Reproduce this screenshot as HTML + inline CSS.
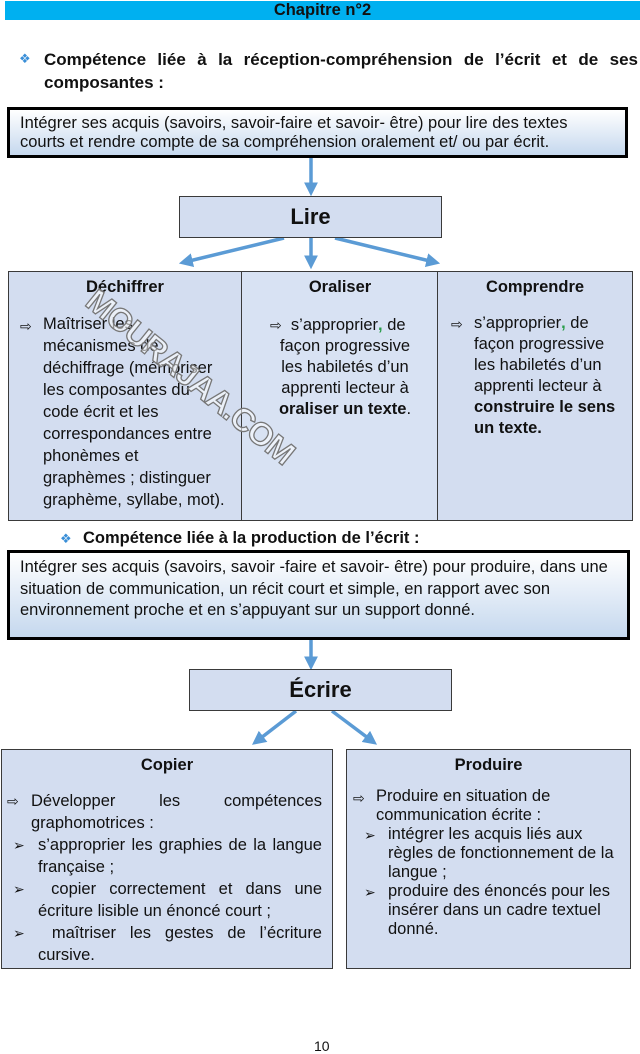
<!DOCTYPE html>
<html><head><meta charset="utf-8"><style>
*{margin:0;padding:0;box-sizing:border-box}
body{width:640px;height:1051px;background:#fff;position:relative;overflow:hidden;font-family:"Liberation Sans",sans-serif;color:#111;font-size:16.5px}
.a{position:absolute}
.bar{left:5px;top:1px;width:635px;height:19px;background:#00b0f0;text-align:center;font-weight:bold;font-size:16.5px;line-height:19px}
.box{border:1.5px solid #3a3a3a;background:#d3ddf0}
.big{border:3px solid #000;background:linear-gradient(#fff,#c5d8ee)}
.t{white-space:nowrap}
.hd{font-weight:bold;text-align:center}
.dia{color:#3a8fd8;font-size:13px}
.row{display:flex}
.row .m{flex:none}
.row .j{flex:1;text-align:justify;text-align-last:justify}
.sm{font-size:14px}
</style></head><body>
<div class="a bar">Chapitre n°2</div>
<div class="a dia" style="left:19px;top:51px">❖</div>
<div class="a t" style="left:44px;top:50px;font-weight:bold;font-size:17px;width:594px;text-align:justify;text-align-last:justify">Compétence liée à la réception-compréhension de l’écrit et de ses</div>
<div class="a t" style="left:44px;top:73px;font-weight:bold;font-size:17px">composantes :</div>

<div class="a big" style="left:7px;top:107px;width:621px;height:51px"></div>
<div class="a t" style="left:20px;top:114px;line-height:19px">Intégrer ses acquis (savoirs, savoir-faire et savoir- être) pour lire des textes<br>courts et rendre compte de sa compréhension oralement et/ ou par écrit.</div>

<svg class="a" style="left:0;top:0" width="640" height="1051">
<defs><marker id="m" markerWidth="4" markerHeight="4" refX="2.2" refY="2" orient="auto" markerUnits="strokeWidth"><path d="M0,0 L4,2 L0,4 Z" fill="#5b9bd5"/></marker></defs>
<g stroke="#5b9bd5" stroke-width="3.5" fill="none" marker-end="url(#m)">
<line x1="311" y1="158" x2="311" y2="190"/>
<line x1="284" y1="238" x2="185" y2="262"/>
<line x1="311" y1="238" x2="311" y2="263"/>
<line x1="335" y1="238" x2="434" y2="262"/>
<line x1="311" y1="640" x2="311" y2="664"/>
<line x1="296" y1="711" x2="257" y2="741"/>
<line x1="332" y1="711" x2="372" y2="741"/>
</g></svg>

<div class="a box" style="left:179px;top:196px;width:263px;height:42px;text-align:center;font-weight:bold;font-size:22px;line-height:40px">Lire</div>

<div class="a box" style="left:8px;top:271px;width:234px;height:250px"></div>
<div class="a box" style="left:241px;top:271px;width:198px;height:250px;background:#d8e2f3"></div>
<div class="a box" style="left:437px;top:271px;width:196px;height:250px"></div>
<div class="a hd" style="left:8px;top:278px;width:234px">Déchiffrer</div>
<div class="a hd" style="left:241px;top:278px;width:198px">Oraliser</div>
<div class="a hd" style="left:437px;top:278px;width:196px">Comprendre</div>

<div class="a t sm" style="left:20px;top:315px;line-height:22px">⇨</div>
<div class="a t" style="left:43px;top:313px;line-height:22px">Maîtriser les<br>mécanismes de<br>déchiffrage (mémoriser<br>les composantes du<br>code écrit et les<br>correspondances entre<br>phonèmes et<br>graphèmes ; distinguer<br>graphème, syllabe, mot).</div>

<div class="a t" style="left:270px;top:315px;line-height:21px"><span class="sm">⇨</span>&nbsp; s’approprier<span style="color:#2a9d4a;font-weight:bold">,</span> de</div>
<div class="a t" style="left:241px;top:336px;width:198px;text-align:center;line-height:21px;padding-left:10px">façon progressive<br>les habiletés d’un<br>apprenti lecteur à<br><b>oraliser un texte</b>.</div>

<div class="a t sm" style="left:451px;top:314px;line-height:21px">⇨</div>
<div class="a t" style="left:474px;top:313px;line-height:21px">s’approprier<span style="color:#2a9d4a;font-weight:bold">,</span> de<br>façon progressive<br>les habiletés d’un<br>apprenti lecteur à<br><b>construire le sens<br>un texte.</b></div>

<div class="a t" style="left:102px;top:282px;font-size:32px;font-weight:bold;color:rgba(255,255,255,0.55);-webkit-text-stroke:1.3px #777;transform:rotate(39deg);transform-origin:0 0;letter-spacing:-1px">MOURAJAA.COM</div>

<div class="a dia" style="left:60px;top:531px">❖</div>
<div class="a t" style="left:83px;top:529px;font-weight:bold">Compétence liée à la production de l’écrit :</div>

<div class="a big" style="left:7px;top:550px;width:623px;height:90px"></div>
<div class="a t" style="left:20px;top:557px;line-height:21.5px">Intégrer ses acquis (savoirs, savoir -faire et savoir- être) pour produire, dans une<br>situation de communication, un récit court et simple, en rapport avec son<br>environnement proche et en s’appuyant sur un support donné.</div>

<div class="a box" style="left:189px;top:669px;width:263px;height:42px;text-align:center;font-weight:bold;font-size:22px;line-height:40px">Écrire</div>

<div class="a box" style="left:1px;top:749px;width:332px;height:220px"></div>
<div class="a box" style="left:346px;top:749px;width:285px;height:220px"></div>
<div class="a hd" style="left:1px;top:756px;width:332px">Copier</div>
<div class="a hd" style="left:346px;top:756px;width:285px">Produire</div>

<div class="a" style="left:7px;top:790px;width:315px;line-height:22px">
<div class="row"><span class="m sm" style="width:24px">⇨</span><span class="j">Développer les compétences</span></div>
<div style="padding-left:24px">graphomotrices :</div>
<div class="row"><span class="m sm" style="width:31px;padding-left:6px">➢</span><span class="j">s’approprier les graphies de la langue</span></div>
<div style="padding-left:31px">française ;</div>
<div class="row"><span class="m sm" style="width:31px;padding-left:6px">➢</span><span class="j">&nbsp;copier correctement et dans une</span></div>
<div style="padding-left:31px">écriture lisible un énoncé court ;</div>
<div class="row"><span class="m sm" style="width:31px;padding-left:6px">➢</span><span class="j">&nbsp;maîtriser les gestes de l’écriture</span></div>
<div style="padding-left:31px">cursive.</div>
</div>

<div class="a t sm" style="left:353px;top:789px;line-height:19px">⇨</div>
<div class="a t" style="left:376px;top:787px;line-height:19px">Produire en situation de<br>communication écrite :</div>
<div class="a t sm" style="left:364px;top:826px;line-height:19px">➢<br><br><br>➢</div>
<div class="a t" style="left:388px;top:825px;line-height:19px">intégrer les acquis liés aux<br>règles de fonctionnement de la<br>langue ;<br>produire des énoncés pour les<br>insérer dans un cadre textuel<br>donné.</div>

<div class="a" style="left:314px;top:1038px;font-size:14px">10</div>
</body></html>
